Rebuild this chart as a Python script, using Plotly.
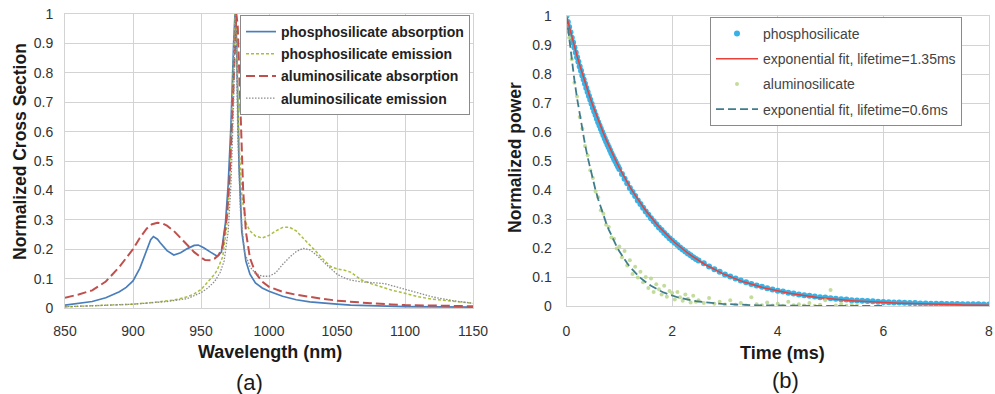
import numpy as np
import plotly.graph_objects as go

# ---------------- (a) normalized cross sections ----------------
wl_p_abs = [850, 860, 870, 880, 890, 895, 900, 905, 910, 913, 915, 918, 920, 925, 930, 935, 940,
            945, 948, 952, 957, 962, 965, 968, 970, 972, 974, 975, 976, 977, 978, 980, 983, 986,
            990, 995, 1000, 1010, 1020, 1030, 1040, 1050, 1060, 1080, 1100, 1125, 1150]
p_abs = [0.010, 0.015, 0.022, 0.035, 0.055, 0.070, 0.092, 0.135, 0.195, 0.232, 0.243, 0.234,
         0.222, 0.195, 0.180, 0.188, 0.202, 0.213, 0.214, 0.205, 0.190, 0.176, 0.190, 0.290,
         0.420, 0.620, 0.900, 1.000, 0.930, 0.700, 0.480, 0.260, 0.160, 0.115, 0.085, 0.068,
         0.057, 0.040, 0.028, 0.021, 0.016, 0.013, 0.010, 0.007, 0.005, 0.004, 0.003]

wl_p_em = [850, 875, 900, 915, 930, 940, 945, 950, 955, 960, 962, 966, 969, 971, 973, 975, 976,
           977, 978, 980, 983, 986, 990, 995, 1000, 1005, 1010, 1015, 1020, 1025, 1030, 1035,
           1040, 1045, 1050, 1055, 1060, 1064, 1068, 1075, 1080, 1090, 1100, 1110, 1120, 1135, 1150]
p_em = [0.004, 0.008, 0.013, 0.019, 0.027, 0.038, 0.048, 0.063, 0.088, 0.115, 0.130, 0.175,
        0.280, 0.420, 0.700, 1.000, 0.950, 0.750, 0.560, 0.380, 0.290, 0.262, 0.245, 0.238,
        0.247, 0.262, 0.274, 0.275, 0.262, 0.238, 0.215, 0.190, 0.165, 0.142, 0.133, 0.129,
        0.122, 0.108, 0.095, 0.083, 0.075, 0.061, 0.050, 0.038, 0.030, 0.022, 0.016]

wl_a_abs = [850, 860, 870, 880, 890, 900, 905, 910, 914, 918, 922, 925, 930, 935, 940, 945, 950,
            953, 957, 960, 963, 966, 969, 971, 973, 975, 976, 977, 978, 979, 981, 983, 986, 990,
            995, 1000, 1010, 1020, 1030, 1040, 1050, 1060, 1075, 1090, 1100, 1125, 1150]
a_abs = [0.035, 0.046, 0.060, 0.090, 0.140, 0.200, 0.238, 0.270, 0.285, 0.290, 0.287, 0.280,
         0.262, 0.237, 0.212, 0.190, 0.172, 0.163, 0.162, 0.168, 0.180, 0.210, 0.310, 0.440,
         0.650, 0.900, 1.000, 0.960, 0.820, 0.650, 0.400, 0.260, 0.170, 0.120, 0.090, 0.072,
         0.055, 0.045, 0.037, 0.031, 0.025, 0.021, 0.016, 0.012, 0.010, 0.008, 0.006]

wl_a_em = [850, 875, 900, 925, 940, 950, 955, 960, 964, 967, 970, 972, 974, 975, 976, 977, 979,
           982, 986, 990, 995, 1000, 1005, 1010, 1015, 1020, 1025, 1030, 1035, 1040, 1045, 1050,
           1055, 1060, 1068, 1075, 1085, 1092, 1100, 1110, 1120, 1135, 1150]
a_em = [0.004, 0.008, 0.013, 0.022, 0.032, 0.052, 0.068, 0.090, 0.120, 0.160, 0.260, 0.420,
        0.700, 1.000, 0.900, 0.600, 0.330, 0.190, 0.140, 0.118, 0.108, 0.108, 0.120, 0.148,
        0.172, 0.192, 0.203, 0.198, 0.180, 0.157, 0.135, 0.115, 0.103, 0.095, 0.089, 0.086,
        0.083, 0.074, 0.064, 0.050, 0.038, 0.025, 0.016]

# ---------------- (b) fluorescence decay ----------------
t_phos = np.round(np.concatenate([np.arange(0, 1.0, 0.025),
                                  np.arange(1.0, 2.5, 0.05),
                                  np.arange(2.5, 8.001, 0.1)]), 3)
phos_power = [1.000, 0.979, 0.962, 0.944, 0.925, 0.909, 0.891, 0.874, 0.858, 0.842,
              0.826, 0.811, 0.795, 0.781, 0.766, 0.752, 0.738, 0.724, 0.711, 0.697,
              0.684, 0.671, 0.659, 0.646, 0.634, 0.622, 0.611, 0.600, 0.589, 0.578,
              0.567, 0.557, 0.547, 0.537, 0.527, 0.517, 0.508, 0.499, 0.490, 0.481,
              0.472, 0.455, 0.439, 0.423, 0.407, 0.393, 0.379, 0.364, 0.352, 0.339,
              0.326, 0.315, 0.303, 0.292, 0.282, 0.271, 0.262, 0.252, 0.243, 0.234,
              0.226, 0.218, 0.210, 0.202, 0.195, 0.188, 0.181, 0.175, 0.168, 0.162,
              0.157, 0.147, 0.136, 0.127, 0.118, 0.109, 0.102, 0.095, 0.088, 0.082,
              0.076, 0.071, 0.066, 0.061, 0.057, 0.053, 0.050, 0.046, 0.043, 0.040,
              0.037, 0.035, 0.033, 0.030, 0.029, 0.027, 0.025, 0.023, 0.022, 0.020,
              0.019, 0.018, 0.017, 0.016, 0.015, 0.014, 0.013, 0.012, 0.012, 0.011,
              0.010, 0.010, 0.009, 0.009, 0.008, 0.008, 0.008, 0.007, 0.007, 0.007,
              0.006, 0.006, 0.006, 0.006, 0.005, 0.005]

t_alum = np.round(np.concatenate([np.arange(0, 2.501, 0.05),
                                  np.arange(2.6, 5.501, 0.1)]), 3)
alum_power = [1.000, 0.925, 0.851, 0.770, 0.722, 0.652, 0.612, 0.552, 0.520, 0.468,
              0.441, 0.395, 0.375, 0.330, 0.318, 0.280, 0.272, 0.236, 0.232, 0.198,
              0.205, 0.168, 0.190, 0.140, 0.158, 0.110, 0.135, 0.098, 0.118, 0.082,
              0.100, 0.062, 0.095, 0.048, 0.075, 0.058, 0.040, 0.070, 0.032, 0.052,
              0.045, 0.022, 0.048, 0.030, 0.018, 0.040, 0.025, 0.012, 0.035, 0.015,
              0.020,
              0.010, 0.028, 0.008, 0.015, 0.005, 0.020, 0.004, 0.010, 0.002, 0.030,
              0.006, 0.003, 0.012, 0.002, 0.008, 0.001, 0.015, 0.003, 0.006, 0.002,
              0.010, 0.001, 0.004, 0.020, 0.055, 0.002, 0.008, 0.001, 0.005, 0.002]

lifetime_phos = 1.35  # ms
lifetime_alum = 0.6   # ms
fit_t_phos = np.linspace(0, 8, 161)
fit_t_alum = np.linspace(0, 6, 121)
fit_phos = np.exp(-fit_t_phos / lifetime_phos)
fit_alum = np.exp(-fit_t_alum / lifetime_alum)

FONT = "Liberation Sans"
W, H = 995, 394

fig = go.Figure()

# left panel
fig.add_trace(go.Scatter(x=wl_p_abs, y=p_abs, mode="lines", name="phosphosilicate absorption",
                         line=dict(color="#4a7ebb", width=1.7), legend="legend", legendgroup="g1"))
fig.add_trace(go.Scatter(x=wl_p_em, y=p_em, mode="lines", name="phosphosilicate emission",
                         line=dict(color="#a9bf3f", width=1.5, dash="3px,2px"),
                         legend="legend", legendgroup="g2"))
fig.add_trace(go.Scatter(x=wl_a_abs, y=a_abs, mode="lines", name="aluminosilicate absorption",
                         line=dict(color="#c0504d", width=2, dash="9px,4px"),
                         legend="legend", legendgroup="g3"))
fig.add_trace(go.Scatter(x=wl_a_em, y=a_em, mode="lines", name="aluminosilicate emission",
                         line=dict(color="#8c8c8c", width=1.3, dash="1.5px,1.5px"),
                         legend="legend", legendgroup="g4"))

# right panel
fig.add_trace(go.Scatter(x=t_phos, y=phos_power, mode="markers", name="phosphosilicate",
                         marker=dict(color="#36b2e6", size=6), xaxis="x2", yaxis="y2",
                         legend="legend2", legendgroup="h1"))
fig.add_trace(go.Scatter(x=fit_t_phos, y=fit_phos, mode="lines",
                         name=f"exponential fit, lifetime={lifetime_phos}ms",
                         line=dict(color="#e8403a", width=1.5), xaxis="x2", yaxis="y2",
                         legend="legend2", legendgroup="h2"))
fig.add_trace(go.Scatter(x=t_alum, y=alum_power, mode="markers", name="aluminosilicate",
                         marker=dict(color="#b9d68a", size=4, opacity=0.85), xaxis="x2", yaxis="y2",
                         legend="legend2", legendgroup="h3"))
fig.add_trace(go.Scatter(x=fit_t_alum, y=fit_alum, mode="lines",
                         name=f"exponential fit, lifetime={lifetime_alum}ms",
                         line=dict(color="#3f7d8c", width=1.8, dash="8px,4px"), xaxis="x2", yaxis="y2",
                         legend="legend2", legendgroup="h4"))

grid = "#d3d3d3"
tickfont = dict(family=FONT, size=14, color="#333333")
common = dict(showgrid=True, gridcolor=grid, gridwidth=1, zeroline=False, showline=True,
              mirror=True, linecolor=grid, linewidth=1, tickfont=tickfont, ticks="",
              fixedrange=True, automargin=False, ticklabeloverflow="allow")

fig.update_layout(
    width=W, height=H,
    margin=dict(l=0, r=0, t=0, b=0),
    paper_bgcolor="white", plot_bgcolor="white",
    font=dict(family=FONT),
    xaxis=dict(domain=[65 / W, 473 / W], range=[850, 1150], dtick=50, tick0=850,
               ticklabelstandoff=10, anchor="y", **common),
    yaxis=dict(domain=[1 - 308 / H, 1 - 14 / H], range=[0, 1], dtick=0.1,
               ticklabelstandoff=8, anchor="x", **common),
    xaxis2=dict(domain=[566.5 / W, 989 / W], range=[0, 8], dtick=2,
                ticklabelstandoff=12, anchor="y2", **common),
    yaxis2=dict(domain=[1 - 306 / H, 1 - 16 / H], range=[0, 1], dtick=0.1,
                ticklabelstandoff=11, anchor="x2", **common),
    legend=dict(x=240 / W, y=1 - 15 / H, xanchor="left", yanchor="top",
                bgcolor="white", bordercolor="#8a8a8a", borderwidth=1,
                font=dict(family=FONT, size=14, color="#222222", weight="bold"),
                tracegroupgap=1),
    legend2=dict(x=710 / W, y=1 - 17 / H, xanchor="left", yanchor="top",
                 bgcolor="white", bordercolor="#8a8a8a", borderwidth=1,
                 font=dict(family=FONT, size=14, color="#444444"),
                 tracegroupgap=4, itemwidth=42),
    showlegend=True,
)

title_font = dict(family=FONT, size=18, color="#1a1a1a", weight="bold")
ann = [
    dict(text="Normalized Cross Section", x=20 / W, y=1 - 152 / H, textangle=-90,
         font=dict(family=FONT, size=17.5, color="#1a1a1a", weight="bold")),
    dict(text="Wavelength (nm)", x=270 / W, y=1 - 352 / H, font=title_font),
    dict(text="(a)", x=250 / W, y=1 - 382 / H, font=dict(family=FONT, size=22, color="#1a1a1a")),
    dict(text="Normalized power", x=515 / W, y=1 - 158 / H, textangle=-90,
         font=dict(family=FONT, size=17.5, color="#1a1a1a", weight="bold")),
    dict(text="Time (ms)", x=782 / W, y=1 - 353 / H, font=title_font),
    dict(text="(b)", x=785 / W, y=1 - 380 / H, font=dict(family=FONT, size=22, color="#1a1a1a")),
]
for a in ann:
    a.update(xref="paper", yref="paper", showarrow=False, xanchor="center", yanchor="middle")
fig.update_layout(annotations=ann)

fig.write_html("out.html")
